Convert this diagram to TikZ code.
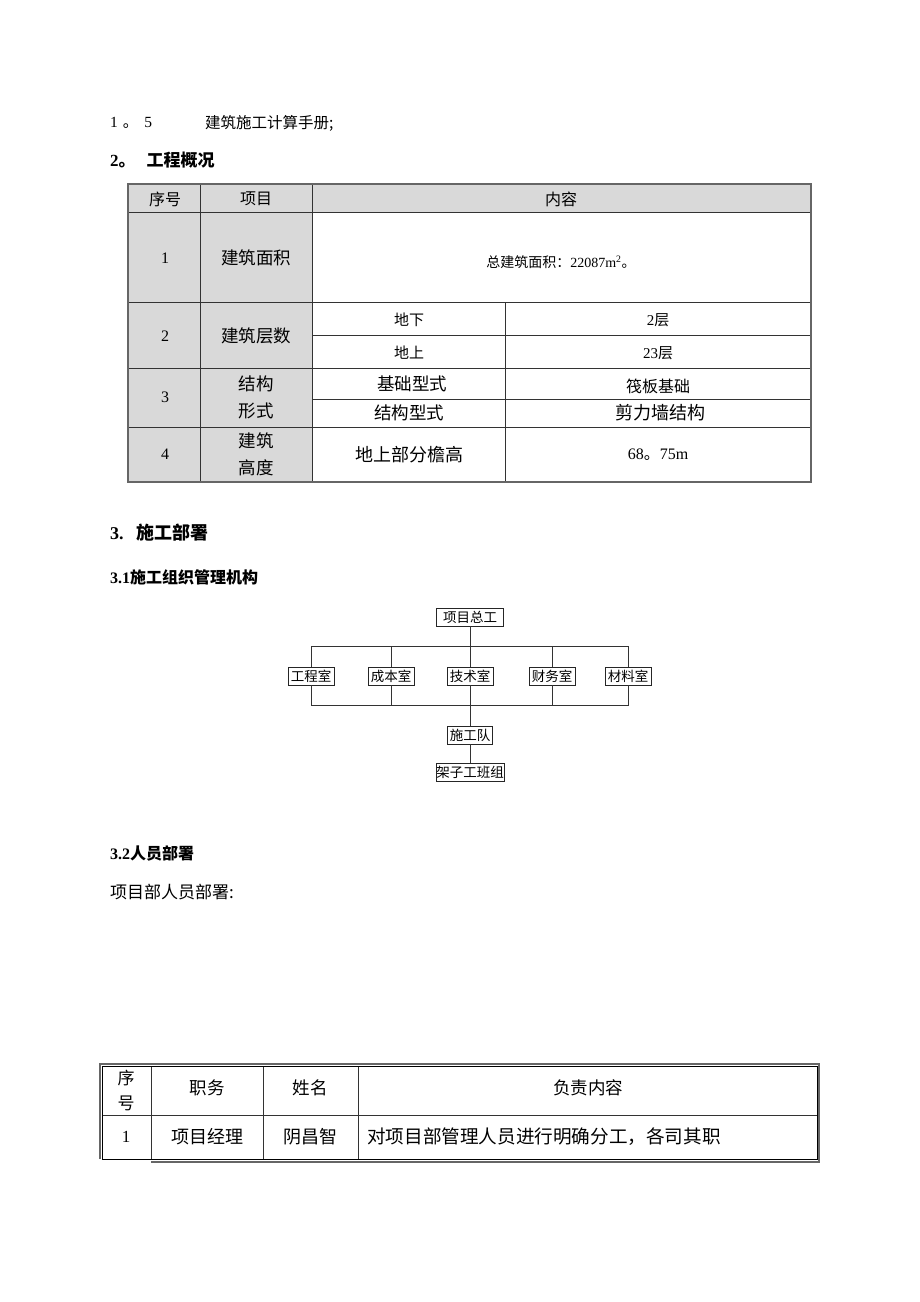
\documentclass[tikz,border=0pt]{standalone}
\usepackage{fontspec}
\setmainfont{Liberation Serif}
\newfontfamily\cjk{Noto Sans CJK SC}
\newcommand\fs[1]{\fontsize{#1}{#1}\selectfont}

\begin{document}
\begin{tikzpicture}[x=1pt,y=-1pt,
  txt/.style={anchor=west,inner sep=0pt},
  cell/.style={inner sep=0pt},
  grid/.style={draw=black!80,line width=0.9pt},
  frame/.style={draw=black!60,line width=2.5pt},
  orgbox/.style={draw=black!85,line width=0.9pt,inner sep=0pt,minimum height=18pt,font=\cjk\fs{13.5}},
  orgline/.style={draw=black!80,line width=0.9pt}]
\path[use as bounding box,fill=white] (0,0) rectangle (920,1302);

% text lines
\node[txt] (refnum) at (110,123) {\fs{15.5}1\hspace{5pt}{\cjk 。}\hspace{6pt}5};
\node[txt] (ref) at (205,123) {\cjk\fs{15.5}建筑施工计算手册;};
\node[txt] (sec2) at (110,160) {\bfseries\fs{17}2{\cjk 。}\hspace{11pt}{\cjk 工程概况}};
\node[txt] (sec3) at (110,533) {\bfseries\fs{18}3.\hspace{13pt}{\cjk 施工部署}};
\node[txt] (sec31) at (110,577) {\bfseries\fs{16}3.1{\cjk 施工组织管理机构}};
\node[txt] (sec32) at (110,853) {\bfseries\fs{16}3.2{\cjk 人员部署}};
\node[txt] (staff) at (110,892) {\cjk\fs{17}项目部人员部署:};

% table 1
\fill[black!15] (129,185) rectangle (810,212);
\fill[black!15] (129,212) rectangle (312,481);
\draw[grid] (129,212) -- (810,212);
\draw[grid] (129,302) -- (810,302);
\draw[grid] (129,368) -- (810,368);
\draw[grid] (129,427) -- (810,427);
\draw[grid] (312,335) -- (810,335);
\draw[grid] (312,399) -- (810,399);
\draw[grid] (200,185) -- (200,481);
\draw[grid] (312,185) -- (312,481);
\draw[grid] (505,302) -- (505,481);
\draw[frame] (128,184) rectangle (811,482);

\node[cell] (hno) at (165,199) {\cjk\fs{16}序号};
\node[cell] (hitem) at (256,199) {\cjk\fs{16}项目};
\node[cell] (hcont) at (561,199) {\cjk\fs{16}内容};

\node[cell] (no1) at (165,258) {\fs{16}1};
\node[cell] (area) at (256,258) {\cjk\fs{17.5}建筑面积};
\node[cell] (areav) at (561,262) {\fs{14}{\cjk 总建筑面积：}22087m\textsuperscript{2}{\cjk 。}};

\node[cell] (no2) at (165,336) {\fs{16}2};
\node[cell] (floors) at (256,336) {\cjk\fs{17.5}建筑层数};
\node[cell] (under) at (409,320) {\cjk\fs{15}地下};
\node[cell] (underv) at (658,320) {\fs{15}2{\cjk 层}};
\node[cell] (above) at (409,353) {\cjk\fs{15}地上};
\node[cell] (abovev) at (658,353) {\fs{15}23{\cjk 层}};

\node[cell] (no3) at (165,397) {\fs{16}3};
\node[cell] (struct) at (256,384) {\cjk\fs{17.5}结构};
\node[cell] (form) at (256,411) {\cjk\fs{17.5}形式};
\node[cell] (found) at (412,384) {\cjk\fs{17.5}基础型式};
\node[cell] (foundv) at (658,386) {\cjk\fs{16}筏板基础};
\node[cell] (stype) at (409,413) {\cjk\fs{17.5}结构型式};
\node[cell] (stypev) at (660,413) {\cjk\fs{18}剪力墙结构};

\node[cell] (no4) at (165,454) {\fs{16}4};
\node[cell] (bld) at (256,441) {\cjk\fs{17.5}建筑};
\node[cell] (height) at (256,468) {\cjk\fs{17.5}高度};
\node[cell] (eave) at (409,455) {\cjk\fs{18}地上部分檐高};
\node[cell] (eavev) at (658,455) {\fs{16}68{\cjk 。}75m};

% organisation chart
\node[orgbox,minimum width=67pt] (zonggong) at (470,617) {项目总工};
\node[orgbox,minimum width=46pt] (gongcheng) at (311,676) {工程室};
\node[orgbox,minimum width=46pt] (chengben) at (391,676) {成本室};
\node[orgbox,minimum width=46pt] (jishu) at (470,676) {技术室};
\node[orgbox,minimum width=46pt] (caiwu) at (552,676) {财务室};
\node[orgbox,minimum width=46pt] (cailiao) at (628,676) {材料室};
\node[orgbox,minimum width=45pt] (shigong) at (470,735) {施工队};
\node[orgbox,minimum width=68pt] (jiazi) at (470,772) {架子工班组};
\coordinate (busT) at (470,646);
\coordinate (busB) at (470,705);

\draw[orgline] (zonggong) -- (jishu);
\draw[orgline] (gongcheng.north) |- (cailiao.north |- busT) -- (cailiao.north);
\draw[orgline] (chengben.north) -- (chengben.north |- busT);
\draw[orgline] (caiwu.north) -- (caiwu.north |- busT);
\draw[orgline] (gongcheng.south) |- (cailiao.south |- busB) -- (cailiao.south);
\draw[orgline] (chengben.south) -- (chengben.south |- busB);
\draw[orgline] (caiwu.south) -- (caiwu.south |- busB);
\draw[orgline] (jishu) -- (shigong);
\draw[orgline] (shigong) -- (jiazi);

% table 2
\draw[grid] (102,1115) -- (817,1115);
\draw[grid] (151,1066) -- (151,1159);
\draw[grid] (263,1066) -- (263,1159);
\draw[grid] (358,1066) -- (358,1159);
\draw[black,line width=0.9pt] (102,1066) rectangle (817,1159);
\draw[frame] (100,1159) -- (100,1064) -- (819,1064) -- (819,1162) -- (151,1162);

\node[cell] (pno1) at (126,1078) {\cjk\fs{17}序};
\node[cell] (pno2) at (126,1103) {\cjk\fs{17}号};
\node[cell] (post) at (207,1088) {\cjk\fs{17.5}职务};
\node[cell] (name) at (310,1088) {\cjk\fs{17.5}姓名};
\node[cell] (duty) at (588,1088) {\cjk\fs{17.5}负责内容};
\node[cell] (pn1) at (126,1137) {\fs{17}1};
\node[cell] (pm) at (207,1137) {\cjk\fs{18}项目经理};
\node[cell] (pmname) at (310,1137) {\cjk\fs{18}阴昌智};
\node[txt] (pmduty) at (367,1137) {\cjk\fs{18.6}对项目部管理人员进行明确分工，各司其职};
\end{tikzpicture}
\end{document}
